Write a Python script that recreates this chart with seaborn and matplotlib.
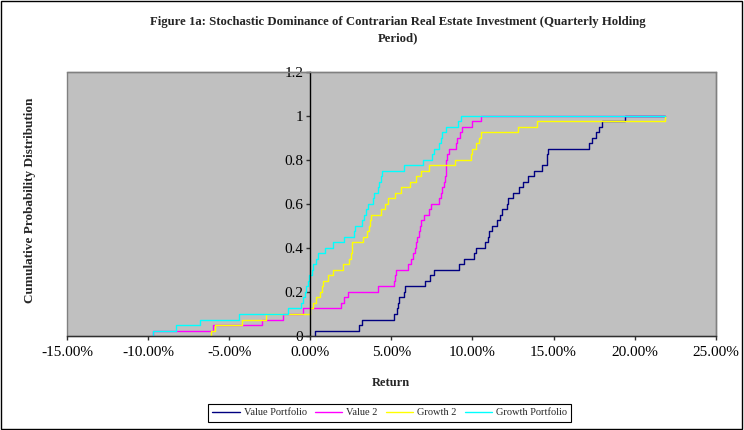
import pandas as pd
import matplotlib.pyplot as plt
import seaborn as sns
from matplotlib.patches import Rectangle
from matplotlib.ticker import FuncFormatter

# quarterly returns (%), sorted, 40 observations per portfolio
value_portfolio = [0.3, 3.0, 3.2, 5.15, 5.35, 5.4, 5.5, 5.75, 5.85, 7.1,
                   7.4, 7.65, 9.2, 9.5, 10.1, 10.2, 10.75, 10.95, 11.05, 11.2,
                   11.5, 11.7, 11.8, 12.1, 12.2, 12.5, 12.85, 13.1, 13.4, 13.8,
                   14.3, 14.6, 14.62, 14.65, 17.2, 17.4, 17.6, 17.8, 18.0, 19.4]
value_2 = [-9.7, -6.0, -3.0, -1.7, -0.45, 1.9, 2.1, 2.3, 4.15, 5.15,
           5.25, 5.3, 6.0, 6.2, 6.35, 6.45, 6.55, 6.6, 6.7, 6.75,
           6.85, 7.0, 7.35, 7.45, 7.95, 8.05, 8.15, 8.25, 8.3, 8.35,
           8.38, 8.4, 8.45, 8.55, 9.0, 9.06, 9.25, 9.35, 10.0, 10.5]
growth_2 = [-6.1, -5.9, -4.2, -2.7, 0.0, 0.17, 0.35, 0.6, 0.7, 0.8,
            1.1, 1.4, 2.0, 2.4, 2.5, 2.55, 2.6, 3.25, 3.5, 3.6,
            3.7, 3.76, 4.35, 4.6, 4.8, 5.2, 5.6, 6.15, 6.5, 6.85,
            7.3, 8.9, 9.9, 10.0, 10.2, 10.4, 10.5, 12.8, 14.0, 21.9]
growth_portfolio = [-9.7, -8.3, -6.8, -4.4, -1.4, -0.6, -0.45, -0.35, -0.25, -0.15,
                    -0.05, 0.1, 0.2, 0.35, 0.5, 0.9, 1.4, 2.1, 2.7, 2.75,
                    3.2, 3.3, 3.45, 3.55, 3.85, 3.95, 4.15, 4.25, 4.35, 4.4,
                    5.75, 6.95, 7.5, 7.6, 7.95, 8.05, 8.1, 8.4, 9.1, 9.3]

series_names = ['Value Portfolio', 'Value 2', 'Growth 2', 'Growth Portfolio']
series_colours = ['#000080', '#FF00FF', '#FFFF00', '#00FFFF']
x_ticks = [-15, -10, -5, 0, 5, 10, 15, 20, 25]
y_ticks = [0, 0.2, 0.4, 0.6, 0.8, 1.0, 1.2]


def build_cdf_frame():
    """ Long dataframe with the empirical cdf of each portfolio. """
    all_returns = value_portfolio + value_2 + growth_2 + growth_portfolio
    top = max(all_returns)
    rows = []
    for name, values in zip(series_names, [value_portfolio, value_2, growth_2, growth_portfolio]):
        n = len(values)
        rows.append((name, values[0], 0.0))
        for i, v in enumerate(values):
            rows.append((name, v, (i + 1) / n))
        rows.append((name, top, 1.0))
    return pd.DataFrame(rows, columns=['series', 'ret', 'cdf'])


df = build_cdf_frame()

sns.set_theme(style='white')
plt.rcParams['font.family'] = ['Liberation Serif', 'DejaVu Serif']

fig = plt.figure(figsize=(7.44, 4.30), dpi=100)
ax = fig.add_axes([0.090, 0.2186, 0.872, 0.6140])

sns.lineplot(data=df, x='ret', y='cdf', hue='series', hue_order=series_names,
             palette=dict(zip(series_names, series_colours)), estimator=None,
             drawstyle='steps-post', linewidth=1.0, ax=ax)

ax.set_xlim(-15, 25)
ax.set_ylim(0, 1.2)
ax.set_facecolor('#C0C0C0')
ax.patch.set_edgecolor('#808080')
ax.patch.set_linewidth(1.0)

ax.spines['left'].set_position(('data', 0))
ax.spines['left'].set_color('black')
ax.spines['bottom'].set_color('#303030')
ax.spines['top'].set_color('#808080')
ax.spines['right'].set_color('#808080')
for s in ax.spines.values():
    s.set_linewidth(1.0)

ax.set_xticks(x_ticks)
ax.set_yticks(y_ticks)
ax.xaxis.set_major_formatter(FuncFormatter(lambda v, p: f'{v:.2f}%'))
ax.yaxis.set_major_formatter(FuncFormatter(lambda v, p: f'{v:g}'))
ax.tick_params(axis='both', which='major', direction='out', length=3, width=1,
               color='#303030', labelsize=11, labelcolor='black', pad=2,
               bottom=True, left=True)
ax.tick_params(axis='x', pad=4)

ax.set_xlabel('Return', fontsize=9, fontweight='bold', labelpad=13)
ax.set_ylabel('')
fig.text(0.040, 0.535, 'Cumulative Probability Distribution', rotation=90,
         ha='center', va='center', fontsize=9.5, fontweight='bold')

fig.text(0.535, 0.930, 'Figure 1a: Stochastic Dominance of Contrarian Real Estate Investment (Quarterly Holding\nPeriod)',
         ha='center', va='center', fontsize=9.2, fontweight='bold', linespacing=1.55)

handles, labels = ax.get_legend_handles_labels()
ax.legend(handles, labels, loc='center', bbox_to_anchor=(0.524, 0.04),
          bbox_transform=fig.transFigure, ncol=4, frameon=True, fancybox=False,
          edgecolor='black', fontsize=7.5, handlelength=2.6, columnspacing=0.8,
          handletextpad=0.4, borderpad=0.4, framealpha=1)
ax.get_legend().get_frame().set_linewidth(0.8)

fig.patches.append(Rectangle((0.002, 0.003), 0.995, 0.994, transform=fig.transFigure,
                             fill=False, edgecolor='black', linewidth=1.0))

plt.savefig('out.png', dpi=100)
plt.close()
